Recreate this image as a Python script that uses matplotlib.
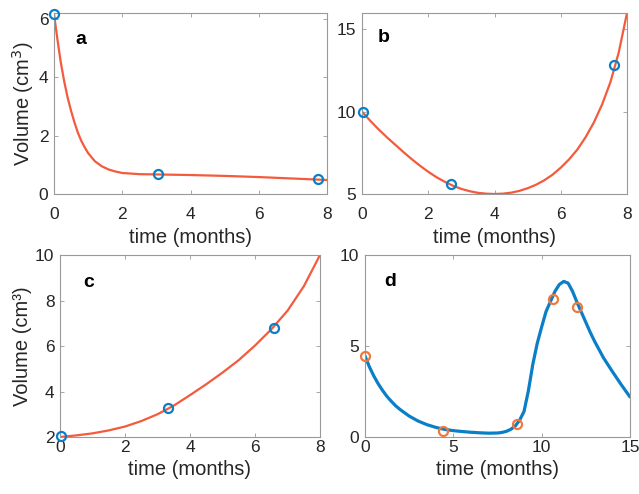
import numpy as np
import matplotlib.pyplot as plt

plt.rcParams['font.family'] = ['Liberation Sans', 'DejaVu Sans']

# panel a: fitted curve + measurements
a_t = [0, 0.1, 0.2, 0.3, 0.4, 0.5, 0.6, 0.7, 0.8, 0.9, 1.0, 1.2, 1.4, 1.6, 1.8, 2.0, 2.5, 3, 4, 5, 6, 7, 8]
a_v = [6.17, 5.3, 4.5, 3.85, 3.3, 2.85, 2.45, 2.1, 1.82, 1.6, 1.4, 1.12, 0.95, 0.84, 0.77, 0.72, 0.68, 0.67, 0.65, 0.62, 0.58, 0.53, 0.48]
a_pt_t = [0, 3.05, 7.75]
a_pt_v = [6.17, 0.68, 0.52]

# panel b
b_t = [0, 0.25, 0.5, 0.75, 1, 1.25, 1.5, 1.75, 2, 2.25, 2.5, 2.75, 3, 3.25, 3.5, 3.75, 4,
       4.25, 4.5, 4.75, 5, 5.25, 5.5, 5.75, 6, 6.25, 6.5, 6.75, 7, 7.25, 7.5, 7.75, 8]
b_v = [10, 9.45, 8.93, 8.45, 8.0, 7.55, 7.12, 6.72, 6.35, 6.02, 5.74, 5.5, 5.31, 5.17, 5.07, 5.02, 5.0,
       5.02, 5.08, 5.19, 5.35, 5.56, 5.83, 6.17, 6.6, 7.1, 7.7, 8.45, 9.35, 10.45, 11.8, 13.6, 16.0]
b_pt_t = [0.04, 2.69, 7.62]
b_pt_v = [10.0, 5.59, 12.85]

# panel c
c_t = [0, 0.5, 1, 1.5, 2, 2.5, 3, 3.5, 4, 4.5, 5, 5.5, 6, 6.5, 7, 7.5, 8]
c_v = [2.0, 2.07, 2.16, 2.29, 2.46, 2.7, 3.0, 3.38, 3.84, 4.32, 4.83, 5.38, 6.02, 6.73, 7.55, 8.62, 10.0]
c_pt_t = [0.03, 3.33, 6.58]
c_pt_v = [2.05, 3.29, 6.78]

# panel d
d_t = [0, 0.25, 0.5, 0.75, 1, 1.25, 1.5, 1.75, 2, 2.5, 3, 3.5, 4, 4.5, 5, 5.5, 6, 6.5, 7, 7.5, 7.75,
       8, 8.25, 8.5, 8.75, 9, 9.25, 9.5, 9.75, 10, 10.25, 10.5, 10.75, 11, 11.25, 11.5, 11.75,
       12, 12.25, 12.5, 12.75, 13, 13.5, 14, 14.5, 15]
d_v = [4.45, 3.85, 3.35, 2.92, 2.55, 2.22, 1.95, 1.7, 1.5, 1.15, 0.88, 0.68, 0.53, 0.42, 0.35, 0.3, 0.26, 0.23, 0.21, 0.22, 0.25,
       0.31, 0.42, 0.6, 0.92, 1.4, 2.55, 4.0, 5.15, 6.05, 6.9, 7.45, 8.0, 8.38, 8.55, 8.45, 8.0,
       7.4, 6.85, 6.3, 5.75, 5.25, 4.35, 3.6, 2.88, 2.2]
d_pt_t = [0.0, 4.42, 8.58, 10.62, 12.02]
d_pt_v = [4.47, 0.31, 0.70, 7.6, 7.13]

red = '#F45A3C'
blue = '#0A7FC8'
orange = '#F0783C'

fig = plt.figure(figsize=(6.39, 4.94), dpi=100)
W, H = 639, 494

def make_ax(l, r, t, b):
    return fig.add_axes([l / W, (H - b) / H, (r - l) / W, (b - t) / H])

axs = [make_ax(54, 327, 13, 194), make_ax(362, 627, 13, 194),
       make_ax(60, 320, 255, 437), make_ax(365, 630, 255, 437)]

curves = [(a_t, a_v, a_pt_t, a_pt_v, red, blue, 1.6),
          (b_t, b_v, b_pt_t, b_pt_v, red, blue, 1.6),
          (c_t, c_v, c_pt_t, c_pt_v, red, blue, 1.6),
          (d_t, d_v, d_pt_t, d_pt_v, blue, orange, 2.3)]
xpads = [9, 9, 2.5, 2.5]
lpads = [5, 5, 3, 3]

for ax, (t, v, pt, pv, lc, mc, lw), xp, lp in zip(axs, curves, xpads, lpads):
    ax.plot(t, v, color=lc, lw=lw, solid_capstyle='round', solid_joinstyle='round')
    ax.plot(pt, pv, 'o', mfc='none', mec=mc, mew=1.6, ms=6.5, clip_on=False, zorder=5)
    ax.tick_params(direction='in', top=True, right=True, labelsize=12.5,
                   length=3, width=0.6, color='#999999', labelcolor='#262626', pad=4)
    ax.tick_params(axis='x', pad=xp)
    for s in ax.spines.values():
        s.set_color('#999999')
        s.set_linewidth(0.8)
    ax.set_xlabel('time (months)', fontsize=14.5, color='#262626', labelpad=lp)

axs[0].set_xlim(0, 8); axs[0].set_ylim(0, 6.2)
axs[0].set_xticks([0, 2, 4, 6, 8]); axs[0].set_yticks([0, 2, 4, 6])
axs[0].set_ylabel('Volume (cm$^3$)', fontsize=14.5, color='#262626', labelpad=2)

axs[1].set_xlim(0, 8); axs[1].set_ylim(5, 16)
axs[1].set_xticks([0, 2, 4, 6, 8]); axs[1].set_yticks([5, 10, 15])

axs[2].set_xlim(0, 8); axs[2].set_ylim(2, 10)
axs[2].set_xticks([0, 2, 4, 6, 8]); axs[2].set_yticks([2, 4, 6, 8, 10])
axs[2].set_ylabel('Volume (cm³)', fontsize=14.5, color='#262626', labelpad=2)

axs[3].set_xlim(0, 15); axs[3].set_ylim(0, 10)
axs[3].set_xticks([0, 5, 10, 15]); axs[3].set_yticks([0, 5, 10])

for ax, lab, x, y in zip(axs, 'abcd', [0.077, 0.06, 0.088, 0.072], [0.856, 0.865, 0.85, 0.857]):
    ax.text(x, y, lab, transform=ax.transAxes, fontsize=14, fontweight='bold', va='center')

fig.savefig('out.png', dpi=100)
